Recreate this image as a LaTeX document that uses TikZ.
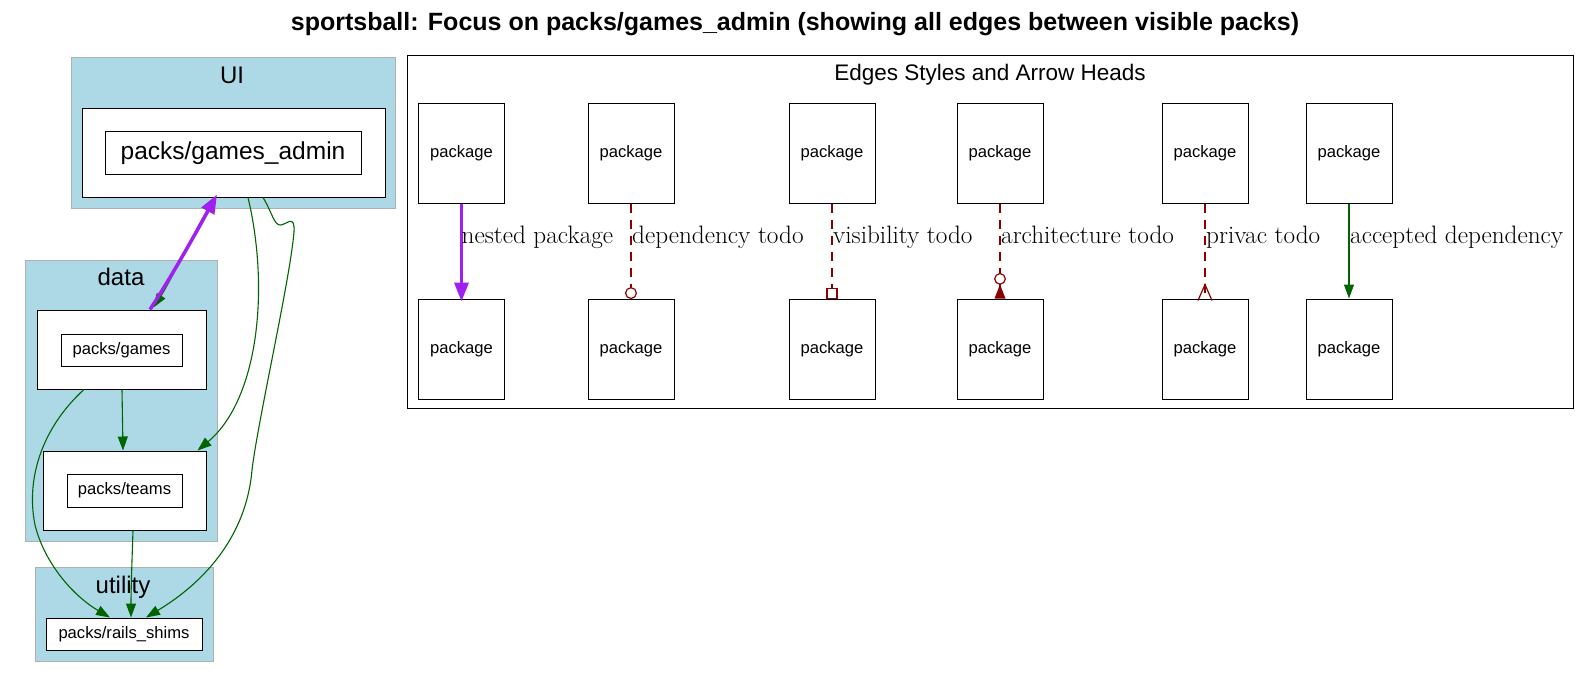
\documentclass[tikz,border=0pt]{standalone}
\usepackage{fontspec}
\setsansfont{Liberation Sans}
\usetikzlibrary{arrows.meta,calc}
\definecolor{clusterblue}{RGB}{173,216,230}
\definecolor{clusterline}{RGB}{176,176,176}
\definecolor{depgreen}{RGB}{0,100,0}
\definecolor{todored}{RGB}{139,0,0}
\definecolor{nestpurple}{RGB}{160,32,240}
\begin{document}
\begin{tikzpicture}[x=1pt,y=-1pt,
  cluster/.style={fill=clusterblue,draw=clusterline,line width=1pt},
  clustertitle/.style={anchor=base,inner sep=0pt,font=\sffamily\fontsize{24}{28}\selectfont},
  outerbox/.style={draw=black,fill=white,line width=1pt,inner sep=0pt},
  smalltext/.style={font=\sffamily\fontsize{16.6}{20}\selectfont,text height=12pt,text depth=3.5pt},
  bigtext/.style={font=\sffamily\fontsize{24.5}{28}\selectfont,text height=18.5pt,text depth=4.5pt},
  labelbox/.style={draw=black,fill=white,line width=1pt,inner sep=0pt},
  pkgbox/.style={draw=black,fill=white,line width=1pt,inner sep=0pt,minimum width=86pt,minimum height=100pt,smalltext},
  edgelabel/.style={anchor=base west,inner sep=0pt,font=\fontsize{25.2}{29}\selectfont},
  dep/.style={draw=depgreen,line width=1.1pt,-{Triangle[length=14pt,width=10pt]},depgreen},
  nested/.style={draw=nestpurple,line width=3.5pt,-{Triangle[length=19pt,width=14pt]},nestpurple},
  todo/.style={draw=todored,line width=1.2pt,dash pattern=on 9pt off 7pt},
  todotip/.style={draw=todored,line width=1.2pt,solid}
]
\useasboundingbox (0,0) rectangle (1591,677);
\fill[white] (0,0) rectangle (1591,677);

% title
\node[anchor=base,inner sep=0pt,font=\sffamily\bfseries\fontsize{25}{30}\selectfont] (title) at (795,31)
  {sportsball: Focus on packs/games\_admin (showing all edges between visible packs)};

% clusters
\draw[cluster] (71,58) rectangle (395,208);
\node[clustertitle] (uilabel) at (232,84) {UI};
\draw[cluster] (25,260) rectangle (217,541);
\node[clustertitle] (datalabel) at (121,285) {data};
\draw[cluster] (35,567) rectangle (213,661);
\node[clustertitle] (utillabel) at (123,593) {utility};

% packages
\node[outerbox,minimum width=303pt,minimum height=89pt] (ga) at (233.5,152.5) {};
\node[labelbox,bigtext,minimum width=256pt,minimum height=43pt] (gal) at (233,152.5) {packs/games\_admin};
\node[outerbox,minimum width=169pt,minimum height=79pt] (g) at (121.5,349.5) {};
\node[labelbox,smalltext,minimum width=121pt,minimum height=32pt] (gl) at (121.5,350) {packs/games};
\node[outerbox,minimum width=163pt,minimum height=79pt] (t) at (124.5,490.5) {};
\node[labelbox,smalltext,minimum width=115pt,minimum height=33pt] (tl) at (124.5,490.5) {packs/teams};
\node[labelbox,smalltext,minimum width=156pt,minimum height=32pt] (rs) at (124,634) {packs/rails\_shims};

% edges (left)
\draw[dep] ($(ga.south)+(-19,0)$) .. controls (196,228) and (170,282) .. ($(g.north)+(32,-2)$);
\draw[nested] ($(g.north)+(28.5,0)$) .. controls (172,276) and (198,229) .. ($(ga.south)+(-16.5,-3)$);
\draw[dep] ($(ga.south)+(14.5,0)$) .. controls (270,290) and (258,400) .. ($(t.north)+(73,0)$);
\draw[dep] ($(ga.south)+(29.5,0)$) .. controls (272,212) and (274,226) .. (281,225)
  .. controls (287,224) and (295,214) .. (294,232)
  .. controls (290,280) and (258,420) .. (252,470)
  .. controls (246,540) and (200,585) .. ($(rs.north)+(22,0)$);
\draw[dep] ($(g.south)+(0.5,0)$) -- ($(t.north)+(-1.5,0)$);
\draw[dep] ($(g.south)+(-37.5,0)$) .. controls (45,425) and (25,475) .. (35,525)
  .. controls (45,565) and (75,597) .. ($(rs.north)+(-14,0)$);
\draw[dep] ($(t.south)+(8.5,0)$) .. controls (132,560) and (131,590) .. ($(rs.north)+(7,0)$);

% legend cluster
\draw[draw=black,line width=1pt] (407,56) rectangle (1573,408);
\node[anchor=base,inner sep=0pt,font=\sffamily\fontsize{22.5}{27}\selectfont] (legendtitle) at (990,81) {Edges Styles and Arrow Heads};

\foreach \i/\x in {1/461.5,2/631,3/832,4/1000,5/1205,6/1349}{
  \node[pkgbox] (pa\i) at (\x,153) {package};
  \node[pkgbox] (pb\i) at (\x,349) {package};
}

\draw[nested] (pa1) -- ($(pb1.north)+(0,3)$);
\node[edgelabel] (l1) at ($(pa1.south)+(0,40)$) {nested package};

\draw[todo] (pa2) -- (pb2);
\draw[todotip,fill=white] ($(pb2.north)+(0,-5.4)$) circle (5.4);
\node[edgelabel] (l2) at ($(pa2.south)+(1,40)$) {dependency todo};

\draw[todo] (pa3) -- (pb3);
\draw[todotip,fill=white] ($(pb3.north)+(-5,-10)$) rectangle ($(pb3.north)+(5,0)$);
\node[edgelabel] (l3) at ($(pa3.south)+(1,40)$) {visibility todo};

\draw[todo] (pa4) -- (pb4);
\fill[todored] ($(pb4.north)+(-5.5,0)$) -- ($(pb4.north)+(0,-14)$) -- ($(pb4.north)+(5.5,0)$) -- cycle;
\draw[todotip,fill=white] ($(pb4.north)+(0,-19.6)$) circle (5.3);
\node[edgelabel] (l4) at ($(pa4.south)+(1,40)$) {architecture todo};

\draw[todo] (pa5) -- (pb5);
\draw[todotip,line join=miter] ($(pb5.north)+(-7,2)$) -- ($(pb5.north)+(0,-14)$) -- ($(pb5.north)+(7,2)$);
\node[edgelabel] (l5) at ($(pa5.south)+(1,40)$) {privac todo};

\draw[dep] (pa6) -- (pb6);
\node[edgelabel] (l6) at ($(pa6.south)+(1,40)$) {accepted dependency};
\end{tikzpicture}
\end{document}
